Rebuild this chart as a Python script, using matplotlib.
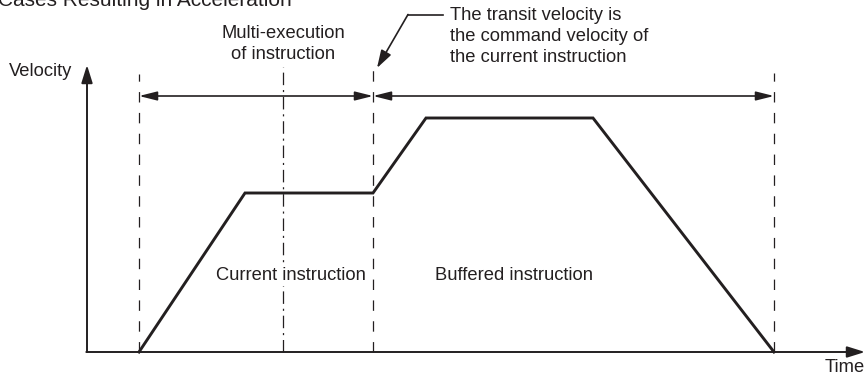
import matplotlib
matplotlib.use('Agg')
import matplotlib.pyplot as plt

plt.rcParams['font.family'] = ['Liberation Sans', 'DejaVu Sans']
plt.rcParams['lines.scale_dashes'] = False

INK = '#231f20'

# velocity profile (time, velocity) in drawing units
times = [52, 158, 286, 339, 506, 687]
velocity = [0, 159, 159, 234, 234, 0]

# boundaries of the instructions
t_start = 52
t_multi = 196
t_switch = 286
t_end = 687

title = 'Cases Resulting in Acceleration'
label_multi = 'Multi-execution\nof instruction'
label_transit = 'The transit velocity is\nthe command velocity of\nthe current instruction'
label_current = 'Current instruction'
label_buffered = 'Buffered instruction'

fig = plt.figure(figsize=(8.66, 3.79), dpi=100)
ax = fig.add_axes([0, 0, 1, 1])
ax.set_xlim(-87, 779)
ax.set_ylim(-27, 352)
ax.axis('off')

head = '-|>,head_length=0.8,head_width=0.25'
both = '<|-|>,head_length=0.8,head_width=0.2'

# axes with arrows
ax.annotate('', xy=(0, 287), xytext=(0, 0),
        arrowprops=dict(arrowstyle=head, mutation_scale=13.5, lw=1.4,
                        color=INK, shrinkA=0, shrinkB=0))
ax.annotate('', xy=(778, 0), xytext=(-0.7, 0),
        arrowprops=dict(arrowstyle=head, mutation_scale=13.5, lw=1.4,
                        color=INK, shrinkA=0, shrinkB=0))

# boundary lines
for t, top in [(t_start, 278), (t_switch, 285), (t_end, 279)]:
    ax.plot([t, t], [0, top], color=INK, lw=0.9, dashes=(7.5, 7.5))
ax.plot([t_multi, t_multi], [0, 285], color=INK, lw=0.9,
        dashes=(9, 3.5, 1.5, 3.5))

# interval arrows
for a, b in [(t_start, t_switch), (t_switch, t_end)]:
    ax.annotate('', xy=(b, 256), xytext=(a, 256),
            arrowprops=dict(arrowstyle=both, mutation_scale=13.5, lw=1.2,
                            color=INK, shrinkA=0, shrinkB=0))

# velocity profile
ax.plot(times, velocity, color=INK, lw=2.1, solid_joinstyle='miter')

# leader to the transit point
ax.plot([356, 321], [337, 337], color=INK, lw=1.2)
ax.annotate('', xy=(290, 284), xytext=(321, 337.5),
        arrowprops=dict(arrowstyle=head, mutation_scale=13.5, lw=1.2,
                        color=INK, shrinkA=0, shrinkB=0))

fs = 13.2
ax.text(-89, 346, title, fontsize=15, color=INK, ha='left', va='baseline')
ax.text(-15, 280, 'Velocity', fontsize=fs, color=INK, ha='right', va='center')
ax.text(778, -15, 'Time', fontsize=fs, color=INK, ha='right', va='center')
ax.text(t_multi, 327, label_multi, fontsize=fs, color=INK, ha='center',
        va='top', linespacing=1.3, multialignment='center')
ax.text(363, 345, label_transit, fontsize=fs, color=INK, ha='left',
        va='top', linespacing=1.3)
ax.text(129, 72, label_current, fontsize=fs, color=INK, ha='left', va='baseline',
        bbox=dict(facecolor='white', edgecolor='none', pad=1.5), zorder=5)
ax.text(348, 72, label_buffered, fontsize=fs, color=INK, ha='left', va='baseline')

fig.savefig('out.png', dpi=100)
